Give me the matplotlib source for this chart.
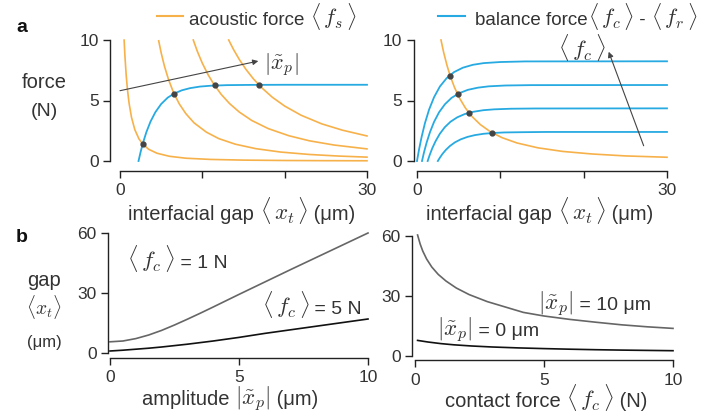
import numpy as np
import matplotlib
matplotlib.use("Agg")
import matplotlib.pyplot as plt
from matplotlib.lines import Line2D
from matplotlib.offsetbox import TextArea, HPacker, AnnotationBbox

plt.rcParams["font.family"] = ["Liberation Sans", "DejaVu Sans"]
plt.rcParams["mathtext.fontset"] = "cm"
plt.rcParams["font.size"] = 12

ORANGE = "#F7B14A"
BLUE = "#27AAE1"
DARK = "#333333"

# ---- panel a, left: acoustic force curves for 4 amplitudes (um, N)
fs1_x = [0.5, 0.6, 0.75, 0.9, 1.1, 1.4, 1.8, 2.3, 2.8, 3.5, 4.5, 6, 8, 11, 15, 20, 25, 30]
fs1_y = [9.99, 8.66, 7.11, 5.94, 4.79, 3.60, 2.59, 1.83, 1.37, 0.96, 0.64, 0.39, 0.23, 0.13, 0.073, 0.042, 0.027, 0.019]
fs2_x = [4.7, 5.0, 5.4, 5.9, 6.5, 7.2, 8, 9, 10.5, 12, 14, 16.5, 19.5, 23, 26.5, 30]
fs2_y = [9.93, 8.94, 7.83, 6.72, 5.66, 4.72, 3.91, 3.15, 2.38, 1.85, 1.39, 1.02, 0.74, 0.54, 0.41, 0.32]
fs3_x = [8.9, 9.4, 10, 10.7, 11.4, 12.3, 13.3, 14.5, 16, 18, 20.5, 23, 26, 30]
fs3_y = [10.0, 9.05, 8.08, 7.13, 6.34, 5.50, 4.75, 4.04, 3.35, 2.68, 2.09, 1.67, 1.32, 1.00]
fs4_x = [13.2, 13.8, 14.5, 15.3, 16.2, 17.2, 18.5, 20, 22, 24.5, 27, 30]
fs4_y = [10.0, 9.20, 8.38, 7.57, 6.79, 6.06, 5.27, 4.54, 3.78, 3.07, 2.55, 2.07]

bal_x = [2.25, 2.5, 2.8, 3.2, 3.7, 4.3, 5, 5.8, 6.6, 7.5, 8.5, 9.7, 11, 13, 16, 20, 30]
bal_y = [0, 0.74, 1.51, 2.38, 3.25, 4.04, 4.71, 5.24, 5.58, 5.84, 6.02, 6.15, 6.22, 6.27, 6.29, 6.3, 6.3]

left_pts_x = [2.76, 6.56, 11.48, 16.85]
left_pts_y = [1.40, 5.57, 6.25, 6.30]

# ---- panel a, right: one acoustic force curve, 4 balance curves
fsr_x = [2.88, 3.2, 3.6, 4.0, 4.5, 5.1, 5.8, 6.6, 7.6, 8.8, 10.2, 12, 14.5, 17.5, 21, 25, 30]
fsr_y = [10.0, 8.97, 7.90, 7.00, 6.08, 5.20, 4.39, 3.68, 3.01, 2.42, 1.93, 1.49, 1.09, 0.79, 0.58, 0.42, 0.31]

r1_x = [0, 0.25, 0.55, 0.95, 1.45, 2.05, 2.75, 3.55, 4.45, 5.5, 6.7, 8, 10, 13, 30]
r1_y = [0, 0.97, 1.98, 3.12, 4.25, 5.28, 6.16, 6.84, 7.35, 7.71, 7.95, 8.09, 8.18, 8.23, 8.24]
r2_x = [0.6, 0.85, 1.15, 1.55, 2.05, 2.65, 3.35, 4.15, 5.05, 6.1, 7.3, 8.6, 10.6, 13.6, 30]
r2_y = [0, 0.74, 1.51, 2.37, 3.24, 4.03, 4.69, 5.22, 5.60, 5.88, 6.06, 6.17, 6.24, 6.27, 6.28]
r3_x = [1.28, 1.53, 1.83, 2.23, 2.73, 3.33, 4.03, 4.83, 5.73, 6.78, 7.98, 9.28, 11.28, 14.28, 30]
r3_y = [0, 0.51, 1.05, 1.64, 2.24, 2.79, 3.25, 3.61, 3.88, 4.07, 4.20, 4.27, 4.32, 4.34, 4.35]
r4_x = [2.5, 2.75, 3.05, 3.45, 3.95, 4.55, 5.25, 6.05, 6.95, 8, 9.2, 10.5, 12.5, 15.5, 30]
r4_y = [0, 0.28, 0.58, 0.91, 1.24, 1.54, 1.79, 1.99, 2.14, 2.25, 2.32, 2.36, 2.38, 2.40, 2.40]

right_pts_x = [4.0, 4.9, 6.2, 9.0]
right_pts_y = [7.05, 5.5, 3.96, 2.33]

# ---- panel b, left: gap vs amplitude
amp = [0, 0.5, 1.0, 1.5, 2.0, 2.5, 3.0, 3.5, 4, 5, 6, 7, 8, 9, 10]
gap_1N = [5.6, 6.0, 7.2, 9.0, 11.3, 14.0, 16.9, 19.9, 23.0, 29.3, 35.5, 41.7, 47.8, 53.9, 60.0]
gap_5N = [1.0, 1.4, 1.9, 2.4, 3.0, 3.7, 4.4, 5.2, 6.0, 7.8, 9.8, 11.6, 13.4, 15.2, 17.0]

# ---- panel b, right: gap vs contact force
fc_10 = [0.1, 0.2, 0.3, 0.45, 0.65, 0.9, 1.2, 1.6, 2.1, 2.8, 3.5, 4.2, 5, 6, 7, 8, 9, 10]
gap_10um = [60.5, 56, 52.5, 48.5, 44.5, 40.8, 37.5, 34, 30.7, 27.2, 24.5, 21.8, 20.0, 18.3, 16.9, 15.6, 14.6, 13.8]
fc_0 = [0.1, 0.5, 1, 1.5, 2.2, 3, 4, 5, 6, 7, 8, 9, 10]
gap_0um = [7.8, 7.0, 6.2, 5.6, 5.0, 4.5, 4.05, 3.7, 3.4, 3.15, 2.95, 2.8, 2.65]

W, H = 718, 418
fig = plt.figure(figsize=(W / 100, H / 100), dpi=100)

TXT = 14.5    # label text size
MATH = 16.5   # size of the math bits inside labels


def make_ax(x0, x1, ytop, ybot):
    return fig.add_axes([x0 / W, (H - ybot) / H, (x1 - x0) / W, (ybot - ytop) / H])


def rich(parts, x, y, ha=0.5, va=0.5):
    # mixed-size text: plain words and bigger math, sat on one baseline
    boxes = [TextArea(s, textprops=dict(size=sz, color=DARK)) for s, sz in parts]
    pack = HPacker(children=boxes, align="baseline", pad=0, sep=0)
    ab = AnnotationBbox(pack, (x / W, 1 - y / H), xycoords="figure fraction",
                        box_alignment=(ha, va), frameon=False, pad=0)
    fig.add_artist(ab)


def style(ax, xlim, ylim, xticks, xlabels, yticks, left_off, bot_off):
    ax.set_xlim(*xlim)
    ax.set_ylim(*ylim)
    for s in ["top", "right"]:
        ax.spines[s].set_visible(False)
    ax.spines["left"].set_position(("outward", left_off))
    ax.spines["bottom"].set_position(("outward", bot_off))
    ax.spines["left"].set_bounds(*ylim)
    ax.spines["bottom"].set_bounds(*xlim)
    for s in ["left", "bottom"]:
        ax.spines[s].set_linewidth(1.0)
        ax.spines[s].set_color("#222222")
    ax.set_xticks(xticks)
    ax.set_xticklabels(xlabels)
    ax.set_yticks(yticks)
    ax.tick_params(length=5, width=1.0, color="#222222", labelcolor=DARK, labelsize=12.5)
    ax.tick_params(axis="y", pad=3)
    ax.tick_params(axis="x", pad=4)
    ax.patch.set_visible(False)


# top-left
ax1 = make_ax(120, 367, 40, 161)
for xs, ys in [(fs1_x, fs1_y), (fs2_x, fs2_y), (fs3_x, fs3_y), (fs4_x, fs4_y)]:
    ax1.plot(xs, ys, color=ORANGE, lw=1.2, clip_on=False)
ax1.plot(bal_x, bal_y, color=BLUE, lw=1.3, clip_on=False)
ax1.plot(left_pts_x, left_pts_y, "o", color="#444444", ms=3.5, zorder=5, clip_on=False)
ax1.annotate("", xy=(16.8, 8.26), xytext=(0, 5.81),
             arrowprops=dict(arrowstyle="-|>", color="#444444", lw=0.8,
                             mutation_scale=8, shrinkA=0, shrinkB=0))
ax1.text(19.6, 7.95, r"$|\tilde{x}_p|$", fontsize=16, ha="center", va="center", color=DARK)
style(ax1, (0, 30), (0, 10), [0, 10, 20, 30], ["0", "", "", "30"], [0, 5, 10], 7, 7)

# top-right
ax2 = make_ax(417, 667, 40, 161)
ax2.plot(fsr_x, fsr_y, color=ORANGE, lw=1.2, clip_on=False)
for xs, ys in [(r1_x, r1_y), (r2_x, r2_y), (r3_x, r3_y), (r4_x, r4_y)]:
    ax2.plot(xs, ys, color=BLUE, lw=1.3, clip_on=False)
ax2.plot(right_pts_x, right_pts_y, "o", color="#444444", ms=3.5, zorder=5, clip_on=False)
ax2.annotate("", xy=(23.0, 9.03), xytext=(27.2, 1.26),
             arrowprops=dict(arrowstyle="-|>", color="#444444", lw=0.8,
                             mutation_scale=8, shrinkA=0, shrinkB=0))
ax2.text(19.8, 9.42, r"$\langle\, f_c \,\rangle$", fontsize=16.5, ha="center", va="center", color=DARK)
style(ax2, (0, 30), (0, 10), [0, 10, 20, 30], ["0", "", "", "30"], [0, 5, 10], 2.5, 7)

# bottom-left
ax3 = make_ax(110, 368, 233, 353)
ax3.plot(amp, gap_1N, color="#666666", lw=1.2, clip_on=False)
ax3.plot(amp, gap_5N, color="#111111", lw=1.2, clip_on=False)
style(ax3, (0, 10), (0, 60), [0, 5, 10], ["0", "5", "10"], [0, 30, 60], 1.5, 3.5)

# bottom-right
ax4 = make_ax(415, 673, 236, 356)
ax4.plot(fc_10, gap_10um, color="#666666", lw=1.2, clip_on=False)
ax4.plot(fc_0, gap_0um, color="#111111", lw=1.2, clip_on=False)
style(ax4, (0, 10), (0, 60), [0, 5, 10], ["0", "5", "10"], [0, 30, 60], 2.2, 3)

# axis labels
xt = r"$\langle\, x_t \,\rangle$"
rich([("interfacial gap ", TXT), (xt, MATH), (" (μm)", TXT)], 242, 211)
rich([("interfacial gap ", TXT), (xt, MATH), (" (μm)", TXT)], 540, 211)
rich([("amplitude ", TXT), (r"$|\tilde{x}_p|$", MATH), (" (μm)", TXT)], 230, 399)
rich([("contact force ", TXT), (r"$\langle\, f_c \,\rangle$", MATH), (" (N)", TXT)], 546, 398)

# in-panel annotations (panel b)
rich([(r"$\langle\, f_c \,\rangle$", MATH), (" = 1 N", 14)], 127, 259, ha=0.0)
rich([(r"$\langle\, f_c \,\rangle$", MATH), (" = 5 N", 14)], 362, 305, ha=1.0)
rich([(r"$|\tilde{x}_p|$", MATH), (" = 10 μm", 14)], 538, 304, ha=0.0)
rich([(r"$|\tilde{x}_p|$", MATH), (" = 0 μm", 14)], 437, 330, ha=0.0)

# y labels and panel letters
fig.text(44 / W, 1 - 83 / H, "force", ha="center", va="center", fontsize=14.5, color=DARK)
fig.text(44 / W, 1 - 112 / H, "(N)", ha="center", va="center", fontsize=14, color=DARK)
fig.text(44 / W, 1 - 281 / H, "gap", ha="center", va="center", fontsize=14.5, color=DARK)
fig.text(44 / W, 1 - 307 / H, r"$\langle x_t \rangle$", ha="center", va="center", fontsize=14, color=DARK)
fig.text(44 / W, 1 - 342 / H, "(μm)", ha="center", va="center", fontsize=12, color=DARK)
fig.text(16 / W, 1 - 28 / H, "a", ha="left", va="center", fontsize=14, fontweight="bold", color="#111111")
fig.text(16 / W, 1 - 237 / H, "b", ha="left", va="center", fontsize=14, fontweight="bold", color="#111111")

# legend
fig.add_artist(Line2D([157 / W, 183 / W], [1 - 16 / H, 1 - 16 / H], color=ORANGE, lw=1.5))
rich([("acoustic force ", 13.5), (r"$\langle\, f_s \,\rangle$", 16)], 189, 16.5, ha=0.0)
fig.add_artist(Line2D([438 / W, 465 / W], [1 - 16 / H, 1 - 16 / H], color=BLUE, lw=1.5))
rich([("balance force", 13.5), (r"$\langle\, f_c \,\rangle$", 16), (" - ", 13.5),
      (r"$\langle\, f_r \,\rangle$", 16)], 475, 16.5, ha=0.0)

fig.savefig("out.png", dpi=100)
